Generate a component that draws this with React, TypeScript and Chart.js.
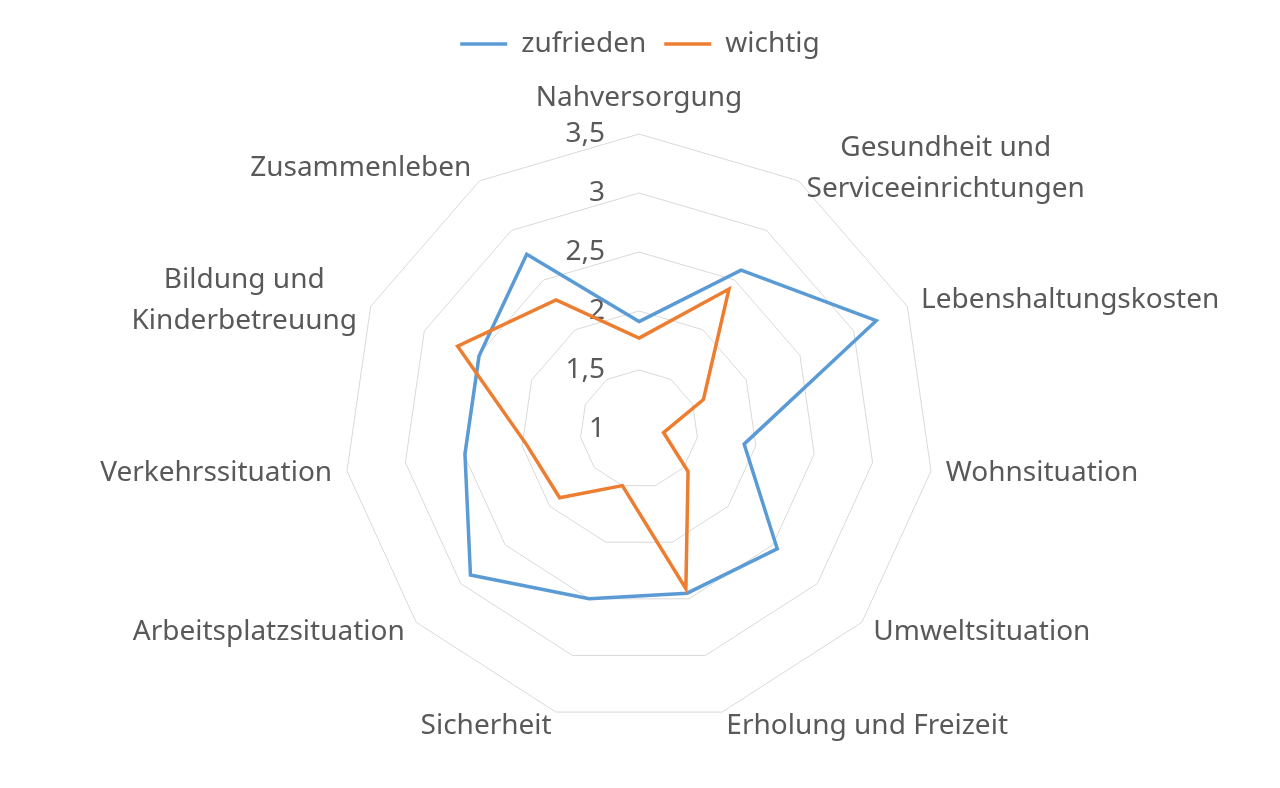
import React, { useEffect, useRef } from 'react';
import { Chart, registerables } from 'chart.js';

Chart.register(...registerables);

// categories (clockwise from top)
const categories: (string | string[])[] = [
  'Nahversorgung',
  ['Gesundheit und', 'Serviceeinrichtungen'],
  'Lebenshaltungskosten',
  'Wohnsituation',
  'Umweltsituation',
  'Erholung und Freizeit',
  'Sicherheit',
  'Arbeitsplatzsituation',
  'Verkehrssituation',
  ['Bildung und', 'Kinderbetreuung'],
  'Zusammenleben',
];

const zufrieden = [1.91, 2.6, 3.21, 1.9, 2.55, 2.45, 2.5, 2.89, 2.49, 2.49, 2.76];
const wichtig = [1.77, 2.41, 1.6, 1.21, 1.55, 2.41, 1.5, 1.89, 1.96, 2.69, 2.3];

const seriesNames = ['zufrieden', 'wichtig'];

// axis range and step
const axisMin = 1;
const axisMax = 3.5;
const axisStep = 0.5;

const FONT = '"Noto Sans", sans-serif';
const FONT_SIZE = 28;
const LINE_H = 41;
const TEXT_COLOR = '#595959';

// draws Excel-style tick labels (left of the axis) and centred point labels
const radarText = {
  id: 'radarText',
  beforeDatasetsDraw(chart: any) {
    const scale = chart.scales.r;
    const ctx = chart.ctx as CanvasRenderingContext2D;
    ctx.save();
    ctx.font = `${FONT_SIZE}px ${FONT}`;
    ctx.fillStyle = TEXT_COLOR;

    ctx.textAlign = 'right';
    ctx.textBaseline = 'middle';
    scale.ticks.forEach((t: any) => {
      const y = scale.yCenter - scale.getDistanceFromCenterForValue(t.value);
      const txt = t.label ?? String(t.value).replace('.', ',');
      ctx.fillText(txt, scale.xCenter - 34, y);
    });

    ctx.textAlign = 'center';
    (chart.data.labels as (string | string[])[]).forEach((label, i) => {
      const lines = Array.isArray(label) ? label : [label];
      const pos = scale.getPointPosition(i, scale.drawingArea + 15);
      let deg = Math.round(((pos.angle + Math.PI / 2) * 180) / Math.PI) % 360;
      if (deg < 0) deg += 360;
      const w = Math.max(...lines.map((l) => ctx.measureText(l).width));
      const h = lines.length * LINE_H;
      let cx = pos.x;
      if (deg !== 0 && deg !== 180) cx = deg < 180 ? pos.x + w / 2 : pos.x - w / 2;
      let cy = pos.y;
      if (deg === 0) cy = pos.y - h / 2;
      else if (deg === 180) cy = pos.y + h / 2;
      lines.forEach((l, k) => {
        ctx.fillText(l, cx, cy - h / 2 + LINE_H * (k + 0.5));
      });
    });
    ctx.restore();
  },
};

const App: React.FC = () => {
  const canvasRef = useRef<HTMLCanvasElement | null>(null);

  useEffect(() => {
    if (!canvasRef.current) return;
    const ctx = canvasRef.current.getContext('2d');
    if (!ctx) return;

    Chart.defaults.font.family = FONT;

    const chart = new Chart(ctx, {
      type: 'radar',
      data: {
        labels: categories as any,
        datasets: [
          {
            label: seriesNames[0],
            data: zufrieden,
            borderColor: '#5B9BD5',
            backgroundColor: '#5B9BD5',
            borderWidth: 3.5,
            pointRadius: 0,
            fill: false,
            order: 1,
          },
          {
            label: seriesNames[1],
            data: wichtig,
            borderColor: '#ED7D31',
            backgroundColor: '#ED7D31',
            borderWidth: 3.5,
            pointRadius: 0,
            fill: false,
            order: 0,
          },
        ],
      },
      options: {
        animation: false,
        responsive: true,
        maintainAspectRatio: false,
        layout: { padding: { top: 12 } },
        plugins: {
          legend: {
            position: 'top',
            labels: {
              usePointStyle: true,
              pointStyle: 'line',
              pointStyleWidth: 47,
              color: TEXT_COLOR,
              font: { size: FONT_SIZE, family: FONT },
              padding: 18,
              sort: (a: any, b: any) => a.datasetIndex - b.datasetIndex,
            },
          },
          tooltip: { enabled: false },
        },
        scales: {
          r: {
            min: axisMin,
            max: axisMax,
            ticks: {
              stepSize: axisStep,
              display: false,
              callback: (v: any) => String(v).replace('.', ','),
            },
            grid: { color: '#D9D9D9', lineWidth: 1 },
            angleLines: { display: false },
            pointLabels: { display: false },
            afterFit: (scale: any) => {
              scale.xCenter = 639;
              scale.yCenter = 429;
              scale.drawingArea = 295;
            },
          },
        },
      },
      plugins: [radarText],
    });

    return () => {
      chart.destroy();
    };
  }, []);

  return (
    <div style={{ position: 'fixed', left: 0, top: 0, width: 1280, height: 788, background: '#fff' }}>
      <canvas ref={canvasRef} />
    </div>
  );
};

export default App;
